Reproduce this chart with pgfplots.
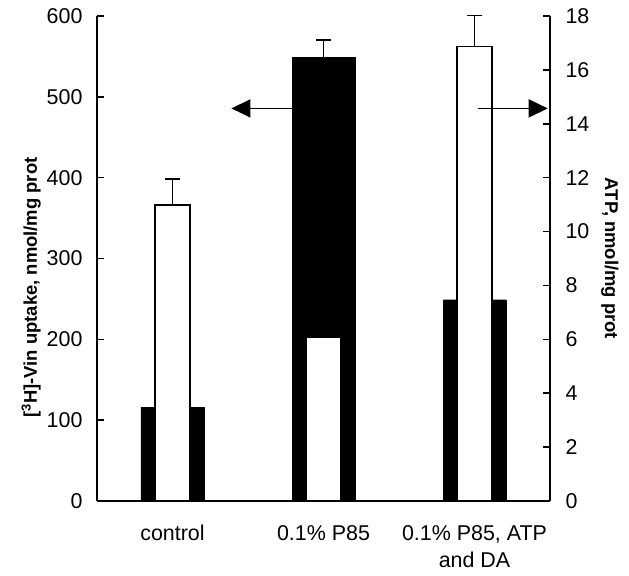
\documentclass[border=0pt]{standalone}
\usepackage{pgfplots}
\pgfplotsset{compat=1.18}
\usepackage{fontspec}
\setmainfont{Liberation Sans}
\usetikzlibrary{arrows.meta}
\begin{document}
\begin{tikzpicture}
\pgfplotsset{
  common/.style={
    scale only axis, width=453bp, height=485bp,
    xmin=-0.5, xmax=2.5,
    /pgf/number format/assume math mode=true,
    tick label style={font=\fontsize{21.5}{21.5}\selectfont},
    label style={font=\fontsize{18.5}{18.5}\selectfont\bfseries},
    axis line style={line width=1.6bp, black},
    tick style={line width=1.6bp, black},
    major tick length=7bp,
    tick align=inside,
    ybar, bar shift=0pt,
  },
  ebar/.style={
    error bars/.cd, y dir=plus, y explicit,
    error bar style={line width=1.5bp, black},
    error mark=|,
    error mark options={line width=1.5bp, mark size=7.5bp, black},
  },
}
\begin{axis}[common, name=ax,
  ymin=0, ymax=600,
  axis x line*=bottom, axis y line*=left,
  xtick={0,1,2},
  xticklabels={control, 0.1\% P85, {0.1\% P85, ATP\\and DA}},
  xticklabel style={align=center, anchor=north, yshift=-10bp, font=\fontsize{21.5}{27}\selectfont},
  xticklabel={\strut\tick},
  xticklabels={\strut control, \strut 0.1\% P85, {\strut 0.1\% P85, ATP\\and DA}},
  x tick style={draw=none},
  ytick={0,100,...,600},
  yticklabel style={xshift=-11bp},
  ylabel={[\textsuperscript{3}H]-Vin uptake, nmol/mg prot},
  ylabel style={at={(axis description cs:-0.145,0.44)}, anchor=center},
  bar width=63bp,
]
\addplot[fill=black, draw=black, ebar]
  table[x=x, y=y, y error=e] {
x y e
0 116 0
1 549 21
2 249 0
};
\end{axis}
\begin{axis}[common,
  ymin=0, ymax=18,
  axis y line*=right, axis x line=none,
  ytick={0,2,...,18},
  yticklabel style={xshift=12bp},
  ylabel={ATP, nmol/mg prot},
  ylabel style={rotate=180, at={(axis description cs:1.132,0.5)}, anchor=center},
  bar width=35bp,
]
\addplot[fill=white, draw=black, line width=1.5bp, ebar]
  table[x=x, y=y, y error=e] {
x y e
0 10.99 0.96
1 6.08 0
2 16.87 1.17
};
\draw[line width=1.5bp, -{Triangle[length=19bp,width=18bp]}] (axis cs:1,14.57) -- (axis cs:0.39,14.57);
\draw[line width=1.5bp, -{Triangle[length=19bp,width=18bp]}] (axis cs:2.02,14.57) -- (axis cs:2.485,14.57);
\end{axis}
\path (ax.south west) ++(-97bp,-75bp) coordinate (bl);
\path (ax.north east) ++(79bp,16bp) coordinate (tr);
\path (bl) rectangle (tr);
\end{tikzpicture}
\end{document}
